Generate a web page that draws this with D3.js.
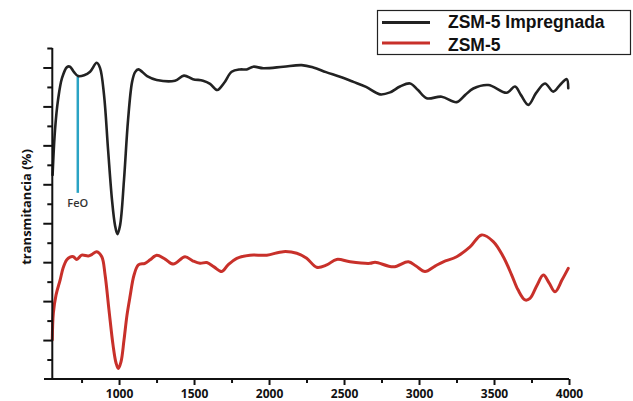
<!DOCTYPE html>
<html><head><meta charset="utf-8">
<script src="https://cdn.jsdelivr.net/npm/d3@7/dist/d3.min.js"></script>
<style>
html,body{margin:0;padding:0;background:#fff;}
svg{display:block;font-family:"Open Sans","Liberation Sans",sans-serif;}
</style></head>
<body><svg id="c" width="633" height="401"></svg>
<script>
// Wavenumber (cm-1) and transmittance (arbitrary %)
const impregWn = [557,573,593,620,653,673,700,727,767,807,851,873,900,927,953,973,989,1007,1033,1060,1087,1107,1129,1187,1251,1373,1433,1493,1560,1607,1655,1700,1751,1807,1851,1895,1962,2095,2218,2295,2380,2473,2562,2647,2740,2807,2873,2940,2993,3051,3151,3251,3307,3362,3462,3585,3640,3680,3729,3780,3840,3895,3940,3985,3995];
const impregT  = [52.4,63.9,71.6,77.3,80.1,80.2,78.8,77.8,78.0,78.9,81.2,79.9,72.9,58.8,46.0,39.5,37.2,39.5,51.1,66.5,76.3,78.8,79.5,77.8,76.8,76.6,77.9,77.0,76.6,75.8,74.2,76.0,78.9,79.5,79.5,80.2,79.8,80.2,80.6,80.0,78.8,77.6,76.3,75.0,73.1,73.6,75.1,75.9,74.2,72.1,72.5,71.1,72.9,74.6,75.5,73.5,75.1,72.9,70.4,73.4,75.9,73.8,75.5,77.0,74.7];

const zsmWn = [555,562,580,607,627,651,673,695,718,751,795,820,851,885,907,933,960,980,995,1013,1033,1053,1073,1100,1129,1173,1207,1251,1307,1362,1440,1493,1540,1585,1633,1685,1727,1785,1873,1985,2095,2185,2251,2318,2385,2451,2540,2673,2707,2829,2929,2980,3040,3107,3162,3251,3340,3418,3495,3562,3618,3660,3707,3740,3787,3829,3867,3907,3953,3995];
const zsmT  = [10.0,16.9,21.6,25.4,28.5,30.6,31.3,31.4,30.7,31.8,31.6,32.0,32.7,31.4,26.7,17.7,8.7,4.1,2.7,4.4,10.0,16.4,21.1,26.7,29.3,29.7,30.6,31.8,30.8,29.5,31.4,30.3,29.7,29.9,28.8,27.6,29.3,31.0,31.8,31.8,32.7,32.3,31.0,28.7,29.3,30.7,30.1,29.7,30.0,28.8,30.1,29.0,27.6,29.0,30.1,31.4,33.9,37.0,35.3,31.4,26.7,22.9,20.3,20.7,24.1,26.7,24.7,22.4,25.4,28.4];

const seriesNames = ["ZSM-5 Impregnada","ZSM-5"];
const seriesColors = ["#222222","#c8302a"];
const xMajorTicks = [1000,1500,2000,2500,3000,3500,4000];
const xMinorTicks = [750,1250,1750,2250,2750,3250,3750];
const yTicks = d3.range(5, 90, 5);
const feoMark = {wn:725, top:77.6, bottom:47.8, label:"FeO"};

const svg = d3.select("#c");
const x = d3.scaleLinear().domain([555,4000]).range([52.3,569]);
const y = d3.scaleLinear().domain([0,85]).range([379,48]);

const line = d3.line().x(d=>x(d[0])).y(d=>y(d[1])).curve(d3.curveCatmullRom.alpha(0.5));

// FeO marker
svg.append("line").attr("x1",x(feoMark.wn)).attr("x2",x(feoMark.wn))
  .attr("y1",y(feoMark.top)).attr("y2",y(feoMark.bottom))
  .attr("stroke","#2aa3c4").attr("stroke-width",2.5);
svg.append("text").attr("x",x(feoMark.wn)).attr("y",y(feoMark.bottom)+14)
  .attr("text-anchor","middle").attr("font-size",11).attr("font-weight",600)
  .attr("fill","#333").text(feoMark.label);

// curves
svg.append("path").datum(impregWn.map((w,i)=>[w,impregT[i]]))
  .attr("d",line).attr("fill","none").attr("stroke",seriesColors[0])
  .attr("stroke-width",2.6).attr("stroke-linejoin","round").attr("stroke-linecap","round");
svg.append("path").datum(zsmWn.map((w,i)=>[w,zsmT[i]]))
  .attr("d",line).attr("fill","none").attr("stroke",seriesColors[1])
  .attr("stroke-width",3).attr("stroke-linejoin","round").attr("stroke-linecap","round");

// x axis
const xAxisG = svg.append("g").attr("transform","translate(0,379)");
xAxisG.append("line").attr("x1",44).attr("x2",x(4000)).attr("y1",0).attr("y2",0)
  .attr("stroke","#111").attr("stroke-width",2);
xAxisG.call(g=>{
  const ax = d3.axisBottom(x).tickValues(xMajorTicks).tickSize(6).tickFormat(d3.format("d"));
  const gg = g.append("g").call(ax);
  gg.select(".domain").remove();
  gg.selectAll(".tick line").attr("stroke","#111").attr("stroke-width",2);
  gg.selectAll(".tick text").attr("font-size",12).attr("font-weight",700)
    .attr("font-family","Open Sans, sans-serif").attr("fill","#111").attr("dy","0.85em");
  const ax2 = d3.axisBottom(x).tickValues(xMinorTicks).tickSize(4).tickFormat("");
  const g2 = g.append("g").call(ax2);
  g2.select(".domain").remove();
  g2.selectAll(".tick line").attr("stroke","#111").attr("stroke-width",2);
});

// y axis
const yAxisG = svg.append("g").attr("transform","translate(52.3,0)");
yAxisG.append("line").attr("x1",0).attr("x2",0).attr("y1",y(85)).attr("y2",380)
  .attr("stroke","#111").attr("stroke-width",2);
const yMaj = yTicks.filter(t=>t%10===0), yMin = yTicks.filter(t=>t%10!==0);
[[yMaj,9],[yMin,5]].forEach(([vals,len])=>{
  const gg = yAxisG.append("g").call(d3.axisLeft(y).tickValues(vals).tickSize(len).tickFormat(""));
  gg.select(".domain").remove();
  gg.selectAll(".tick line").attr("stroke","#111").attr("stroke-width",2);
});

// y label
svg.append("text").attr("transform","translate(26,207) rotate(-90)")
  .attr("text-anchor","middle").attr("dominant-baseline","central")
  .attr("font-size",13).attr("font-weight",700).attr("fill","#111")
  .text("transmitancia (%)");

// legend
const lg = svg.append("g");
lg.append("rect").attr("x",377.5).attr("y",10.5).attr("width",253).attr("height",44)
  .attr("fill","#fff").attr("stroke","#222").attr("stroke-width",1.2);
const lys = [22.5,43];
const tys = [22,44.5];
seriesNames.forEach((n,i)=>{
  lg.append("line").attr("x1",382).attr("x2",430).attr("y1",lys[i]).attr("y2",lys[i])
    .attr("stroke",seriesColors[i]).attr("stroke-width",3);
  lg.append("text").attr("x",448).attr("y",tys[i]).attr("dominant-baseline","central")
    .attr("font-family","Liberation Sans, Arial, sans-serif")
    .attr("font-size",17.5).attr("font-weight",700).attr("fill","#111").text(n);
});
</script></body></html>
